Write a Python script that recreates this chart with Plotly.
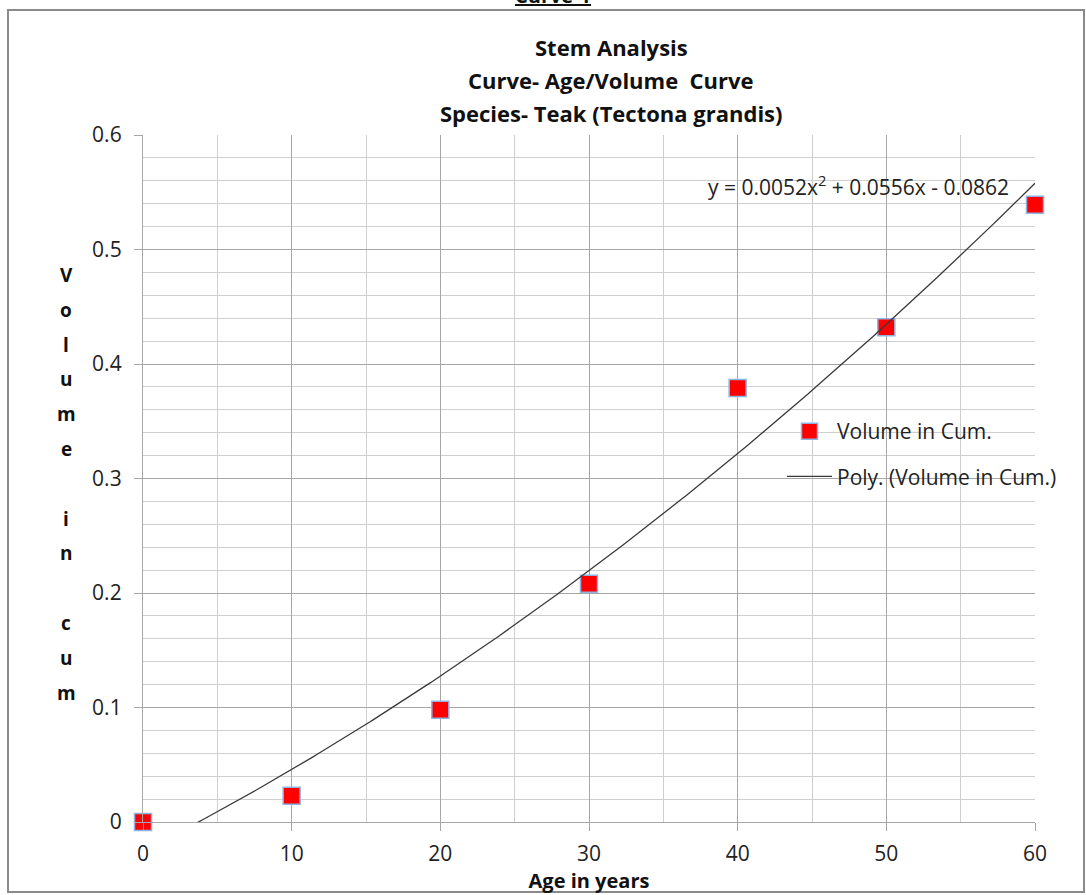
import numpy as np
import plotly.graph_objects as go

# ---- data ----
ages = [0, 10, 20, 30, 40, 50, 60]
volume = [0.0, 0.023, 0.098, 0.208, 0.379, 0.432, 0.539]
# polynomial trendline coefficients as printed on the chart (x = point index 1..7)
poly_coef = [0.0052, 0.0556, -0.0862]
x_ticks = [0, 10, 20, 30, 40, 50, 60]
y_ticks = [0, 0.1, 0.2, 0.3, 0.4, 0.5, 0.6]
y_tick_text = ["0", "0.1", "0.2", "0.3", "0.4", "0.5", "0.6"]

W_FIG, H_FIG = 1086, 895
# plot area in page pixels
L, R, T, B = 143, 1035, 135, 822
PW, PH = R - L, B - T

def px(x):
    return (x - L) / PW

def py(y):
    return (B - y) / PH

FONT = "Open Sans"

# trendline (Excel fits against point index 1..n)
age_fine = np.linspace(ages[0], ages[-1], 300)
idx_fine = age_fine / 10.0 + 1.0
trend = np.polyval(poly_coef, idx_fine)

fig = go.Figure()
fig.add_trace(go.Scatter(
    x=ages, y=volume, mode="markers", name="Volume in Cum.",
    marker=dict(symbol="square", size=17, color="#ff0000",
                line=dict(color="#8db3e2", width=1.5)),
    cliponaxis=False, legendgroup="a",
))
fig.add_trace(go.Scatter(
    x=age_fine, y=trend, mode="lines", name="Poly. (Volume in Cum.)",
    line=dict(color="#3a3a3a", width=1.3),
    legendgroup="b",
))

grid_major = "#a6a6a6"
grid_minor = "#cfcfcf"

fig.update_xaxes(
    range=[0, 60], tickvals=x_ticks, ticks="outside", ticklen=8, tickcolor=grid_major,
    ticklabelstandoff=5,
    showgrid=True, gridcolor=grid_major, gridwidth=1.3,
    minor=dict(dtick=5, showgrid=True, gridcolor=grid_minor, gridwidth=1),
    showline=True, linecolor=grid_major, linewidth=1.3, zeroline=False,
    tickfont=dict(family=FONT, size=21, color="#222"),
    title=dict(text="<b>Age in years</b>", font=dict(family=FONT, size=20, color="#111"), standoff=0),
)
fig.update_yaxes(
    range=[0, 0.6], tickvals=y_ticks, ticktext=y_tick_text, ticks="outside", ticklen=8,
    tickcolor=grid_major, ticklabelstandoff=8,
    showgrid=True, gridcolor=grid_major, gridwidth=1.3,
    minor=dict(dtick=0.02, showgrid=True, gridcolor=grid_minor, gridwidth=1),
    showline=True, linecolor=grid_major, linewidth=1.3, zeroline=False,
    tickfont=dict(family=FONT, size=21, color="#222"),
)

annotations = []
# title lines
for text, ypix in [("Stem Analysis", 47), ("Curve- Age/Volume  Curve", 80),
                   ("Species- Teak (Tectona grandis)", 113)]:
    annotations.append(dict(text=f"<b>{text}</b>", x=px(611), y=py(ypix), xref="paper", yref="paper",
                            showarrow=False, xanchor="center", yanchor="middle",
                            font=dict(family=FONT, size=22, color="#111")))
# vertical y-axis title, one letter per line
letters = list("Volume in cum")
for i, ch in enumerate(letters):
    if ch == " ":
        continue
    annotations.append(dict(text=f"<b>{ch}</b>", x=px(66), y=py(275 + 34.8 * i), xref="paper", yref="paper",
                            showarrow=False, xanchor="center", yanchor="middle",
                            font=dict(family=FONT, size=19, color="#111")))
# trendline equation
annotations.append(dict(text="y = 0.0052x<sup>2</sup> + 0.0556x - 0.0862", x=px(858), y=py(186),
                        xref="paper", yref="paper", showarrow=False, xanchor="center", yanchor="middle",
                        font=dict(family=FONT, size=21, color="#222")))
# clipped page heading at the very top
annotations.append(dict(text="<b><u>Curve-1</u></b>", x=px(553), y=py(11), xref="paper", yref="paper",
                        showarrow=False, xanchor="center", yanchor="bottom",
                        font=dict(family=FONT, size=20, color="#111")))

fig.update_layout(
    width=W_FIG, height=H_FIG,
    margin=dict(l=L, r=W_FIG - R, t=T, b=H_FIG - B, pad=0),
    paper_bgcolor="white", plot_bgcolor="white",
    showlegend=True,
    legend=dict(x=px(782), y=py(411), xanchor="left", yanchor="top",
                bgcolor="rgba(0,0,0,0)", borderwidth=0, itemwidth=45,
                traceorder="grouped", tracegroupgap=15,
                font=dict(family=FONT, size=21, color="#222")),
    annotations=annotations,
    shapes=[dict(type="rect", xref="paper", yref="paper",
                 x0=px(8), x1=px(1084), y0=py(892), y1=py(10),
                 line=dict(color="#8a8a8a", width=2), fillcolor="rgba(0,0,0,0)", layer="below")],
)

fig.write_html("out.html", config={"displayModeBar": False},
               post_script="document.body.style.margin='0px';")
